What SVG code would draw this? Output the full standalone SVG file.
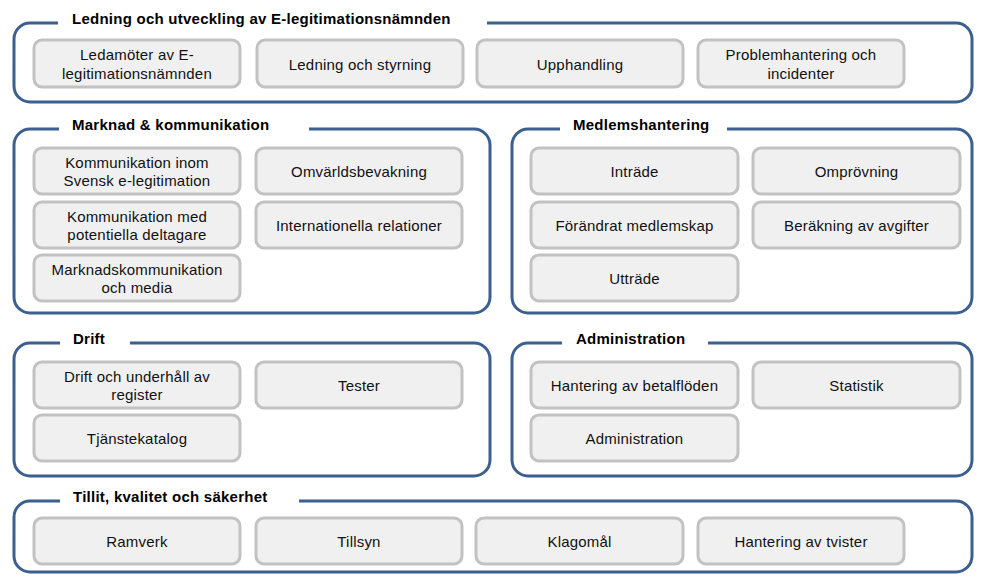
<svg xmlns="http://www.w3.org/2000/svg" width="986" height="578" viewBox="0 0 986 578">
<style>
.grp{fill:#ffffff;stroke:#3b5f8e;stroke-width:3}
.gap{fill:#ffffff;stroke:none}
.box{fill:#f0f0f0;stroke:#c2c2c2;stroke-width:3}
.h{font-family:"Liberation Sans",Arial,sans-serif;font-size:15px;font-weight:bold;fill:#000000;letter-spacing:0.25px}
.t{font-family:"Liberation Sans",Arial,sans-serif;font-size:15px;fill:#111111;text-anchor:middle;letter-spacing:0.2px}
</style>
<rect width="986" height="578" fill="#ffffff"/>

<g id="ledning">
  <rect class="grp" x="14" y="23" width="958" height="79" rx="16"/>
  <rect class="gap" x="58" y="18" width="429" height="10"/>
  <text class="h" x="72" y="24">Ledning och utveckling av E-legitimationsnämnden</text>
  <g id="ledamoter"><rect class="box" x="34" y="40" width="206" height="47" rx="8"/><text class="t" x="137" y="60">Ledamöter av E-<tspan x="137" dy="18.5">legitimationsnämnden</tspan></text></g>
  <g id="ledning-styrning"><rect class="box" x="257" y="40" width="206" height="47" rx="8"/><text class="t" x="360" y="69.5">Ledning och styrning</text></g>
  <g id="upphandling"><rect class="box" x="477" y="40" width="206" height="47" rx="8"/><text class="t" x="580" y="69.5">Upphandling</text></g>
  <g id="problemhantering"><rect class="box" x="698" y="40" width="206" height="47" rx="8"/><text class="t" x="801" y="60">Problemhantering och<tspan x="801" dy="18.5">incidenter</tspan></text></g>
</g>

<g id="marknad">
  <rect class="grp" x="14" y="129" width="476" height="184" rx="16"/>
  <rect class="gap" x="59" y="124" width="250" height="10"/>
  <text class="h" x="72" y="130">Marknad &amp; kommunikation</text>
  <g id="komm-inom"><rect class="box" x="34" y="148" width="206" height="46" rx="8"/><text class="t" x="137" y="167.5">Kommunikation inom<tspan x="137" dy="18.5">Svensk e-legitimation</tspan></text></g>
  <g id="omvarld"><rect class="box" x="256" y="148" width="206" height="46" rx="8"/><text class="t" x="359" y="177">Omvärldsbevakning</text></g>
  <g id="komm-med"><rect class="box" x="34" y="202" width="206" height="46" rx="8"/><text class="t" x="137" y="221.5">Kommunikation med<tspan x="137" dy="18.5">potentiella deltagare</tspan></text></g>
  <g id="internationella"><rect class="box" x="256" y="202" width="206" height="46" rx="8"/><text class="t" x="359" y="231">Internationella relationer</text></g>
  <g id="marknadskomm"><rect class="box" x="34" y="255" width="206" height="46" rx="8"/><text class="t" x="137" y="274.5">Marknadskommunikation<tspan x="137" dy="18.5">och media</tspan></text></g>
</g>

<g id="medlem">
  <rect class="grp" x="512" y="129" width="460" height="184" rx="16"/>
  <rect class="gap" x="560" y="124" width="167" height="10"/>
  <text class="h" x="573" y="130">Medlemshantering</text>
  <g id="intrade"><rect class="box" x="531" y="148" width="207" height="46" rx="8"/><text class="t" x="634.5" y="177">Inträde</text></g>
  <g id="omprovning"><rect class="box" x="753" y="148" width="207" height="46" rx="8"/><text class="t" x="856.5" y="177">Omprövning</text></g>
  <g id="forandrat"><rect class="box" x="531" y="202" width="207" height="46" rx="8"/><text class="t" x="634.5" y="231">Förändrat medlemskap</text></g>
  <g id="berakning"><rect class="box" x="753" y="202" width="207" height="46" rx="8"/><text class="t" x="856.5" y="231">Beräkning av avgifter</text></g>
  <g id="uttrade"><rect class="box" x="531" y="255" width="207" height="46" rx="8"/><text class="t" x="634.5" y="284">Utträde</text></g>
</g>

<g id="drift">
  <rect class="grp" x="14" y="343" width="476" height="133" rx="16"/>
  <rect class="gap" x="60" y="338" width="70" height="10"/>
  <text class="h" x="73" y="344">Drift</text>
  <g id="drift-underhall"><rect class="box" x="34" y="362" width="206" height="46" rx="8"/><text class="t" x="137" y="381.5">Drift och underhåll av<tspan x="137" dy="18.5">register</tspan></text></g>
  <g id="tester"><rect class="box" x="256" y="362" width="206" height="46" rx="8"/><text class="t" x="359" y="391">Tester</text></g>
  <g id="tjanstekatalog"><rect class="box" x="34" y="415" width="206" height="46" rx="8"/><text class="t" x="137" y="444">Tjänstekatalog</text></g>
</g>

<g id="administration">
  <rect class="grp" x="512" y="343" width="460" height="133" rx="16"/>
  <rect class="gap" x="562" y="338" width="146" height="10"/>
  <text class="h" x="576" y="344">Administration</text>
  <g id="betalfloden"><rect class="box" x="531" y="362" width="207" height="46" rx="8"/><text class="t" x="634.5" y="391">Hantering av betalflöden</text></g>
  <g id="statistik"><rect class="box" x="753" y="362" width="207" height="46" rx="8"/><text class="t" x="856.5" y="391">Statistik</text></g>
  <g id="admin-box"><rect class="box" x="531" y="415" width="207" height="46" rx="8"/><text class="t" x="634.5" y="444">Administration</text></g>
</g>

<g id="tillit">
  <rect class="grp" x="14" y="501" width="958" height="71" rx="16"/>
  <rect class="gap" x="60" y="496" width="239" height="10"/>
  <text class="h" x="73" y="502">Tillit, kvalitet och säkerhet</text>
  <g id="ramverk"><rect class="box" x="34" y="518" width="206" height="46" rx="8"/><text class="t" x="137" y="547">Ramverk</text></g>
  <g id="tillsyn"><rect class="box" x="256" y="518" width="206" height="46" rx="8"/><text class="t" x="359" y="547">Tillsyn</text></g>
  <g id="klagomal"><rect class="box" x="476" y="518" width="207" height="46" rx="8"/><text class="t" x="579.5" y="547">Klagomål</text></g>
  <g id="tvister"><rect class="box" x="698" y="518" width="206" height="46" rx="8"/><text class="t" x="801" y="547">Hantering av tvister</text></g>
</g>

<g id="connectors"/>
</svg>
